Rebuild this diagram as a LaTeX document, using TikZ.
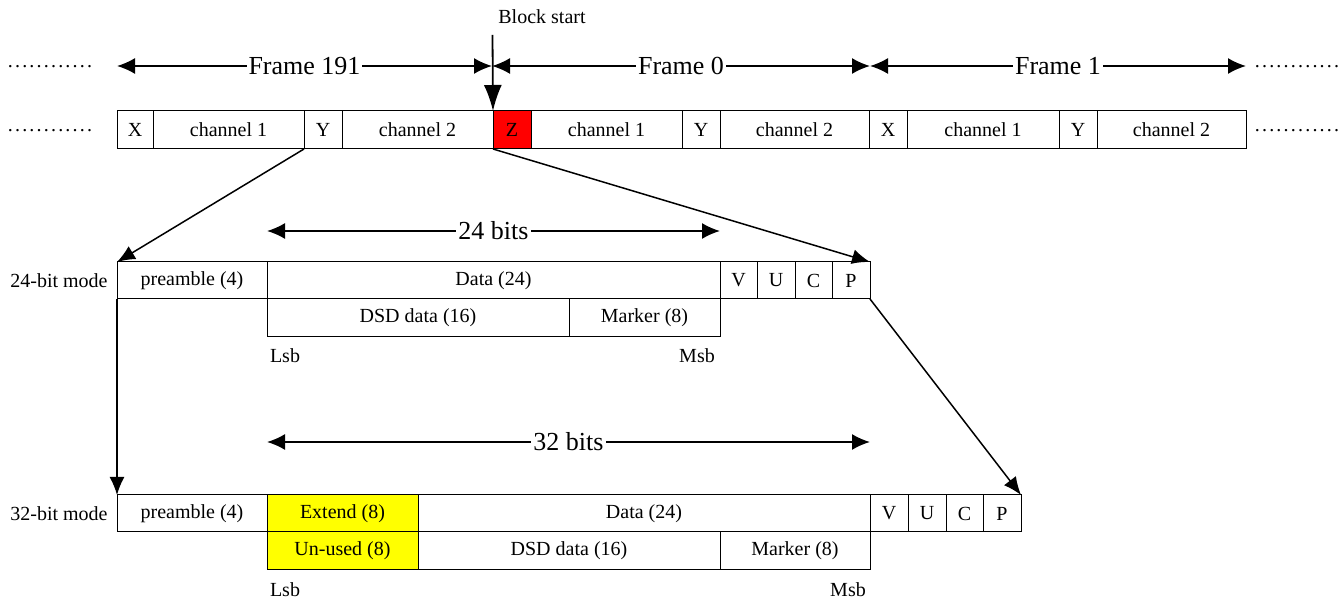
\documentclass[tikz,border=0pt]{standalone}
\usepackage{fontspec}
\setmainfont{Liberation Serif}
\usetikzlibrary{arrows.meta}
\newcommand\mkcell[7]{\node[cell,#7,minimum width={(#3-#2)*0.5pt},minimum height={(#5-#4)*0.5pt}] (#1) at ({(#2+#3)/2},{(#4+#5)/2}) {#6};}
\newcommand\dt{\makebox[3.6pt]{.}}
\newcommand\dotrow{\dt\dt\dt\dt\dt\dt\dt\dt\dt\dt\dt\dt}
\definecolor{zred}{RGB}{255,0,0}
\definecolor{exyel}{RGB}{255,255,0}
\begin{document}
\begin{tikzpicture}[x=0.5pt,y=-0.5pt,
  cell/.style={draw,line width=0.5pt,inner sep=0pt,outer sep=0pt,font=\fontsize{10pt}{12pt}\selectfont},
  txt/.style={inner sep=0pt,font=\fontsize{10pt}{12pt}\selectfont},
  big/.style={fill=white,inner sep=1pt,font=\fontsize{13pt}{15pt}\selectfont},
  farrow/.style={line width=0.9pt,{Latex[length=9pt,width=8pt]}-{Latex[length=9pt,width=8pt]}},
  conn/.style={line width=0.75pt,-{Latex[length=9pt,width=7.5pt]}}]
\useasboundingbox (0,0) rectangle (1344,603);
% dots
\node[txt] (dl1) at (50,67) {\dotrow};
\node[txt] (dl2) at (50,131) {\dotrow};
\node[txt] (dr1) at (1297,67) {\dotrow};
\node[txt] (dr2) at (1297,131) {\dotrow};
% top row
\mkcell{X1}{117}{153}{111}{149}{X}{}
\mkcell{c1a}{153}{304}{111}{149}{channel 1}{}
\mkcell{Y1}{304}{342}{111}{149}{Y}{}
\mkcell{c2a}{342}{493}{111}{149}{channel 2}{}
\mkcell{Z}{493}{531}{111}{149}{Z}{fill=zred}
\mkcell{c1b}{531}{682}{111}{149}{channel 1}{}
\mkcell{Y2}{682}{720}{111}{149}{Y}{}
\mkcell{c2b}{720}{869}{111}{149}{channel 2}{}
\mkcell{X2}{869}{907}{111}{149}{X}{}
\mkcell{c1c}{907}{1059}{111}{149}{channel 1}{}
\mkcell{Y3}{1059}{1097}{111}{149}{Y}{}
\mkcell{c2c}{1097}{1246}{111}{149}{channel 2}{}
% frame arrows
\coordinate (f0) at (117,66);
\coordinate (f1) at (492,66);
\coordinate (f2) at (870,66);
\coordinate (f3) at (1246,66);
\draw[farrow] (f0) -- node[big] (l191) {Frame 191} (f1);
\draw[farrow] (f1) -- node[big] (l0) {Frame 0} (f2);
\draw[farrow] (f2) -- node[big] (l1) {Frame 1} (f3);
% block start
\node[txt] (bs) at (542,17) {Block start};
\coordinate (bstop) at (492.5,35);
\draw[line width=0.9pt,-{Latex[length=13pt,width=9pt]}] (bstop) -- (Z.north west);
% 24-bit row
\node[txt,anchor=east] (m24) at (108,281) {24-bit mode};
\mkcell{pre24}{117}{267}{262}{299}{preamble (4)}{}
\mkcell{d24}{267}{720}{262}{299}{Data (24)}{}
\mkcell{V24}{720}{757}{262}{299}{V}{}
\mkcell{U24}{757}{795}{262}{299}{U}{}
\mkcell{C24}{795}{832}{262}{299}{C}{}
\mkcell{P24}{832}{870}{262}{299}{P}{}
\mkcell{dsd24}{267}{569}{299}{337}{DSD data (16)}{}
\mkcell{mk24}{569}{720}{299}{337}{Marker (8)}{}
\node[txt] (lsb24) at (285,356) {Lsb};
\node[txt] (msb24) at (697,356) {Msb};
\coordinate (b24a) at (267,231);
\coordinate (b24b) at (720,231);
\draw[farrow] (b24a) -- node[big] (l24) {24 bits} (b24b);
% 32-bit row
\node[txt,anchor=east] (m32) at (108,514) {32-bit mode};
\mkcell{pre32}{117}{267}{495}{532}{preamble (4)}{}
\mkcell{ext32}{267}{418}{495}{532}{Extend (8)}{fill=exyel}
\mkcell{d32}{418}{870}{495}{532}{Data (24)}{}
\mkcell{V32}{870}{908}{495}{532}{V}{}
\mkcell{U32}{908}{946}{495}{532}{U}{}
\mkcell{C32}{946}{983}{495}{532}{C}{}
\mkcell{P32}{983}{1021}{495}{532}{P}{}
\mkcell{un32}{267}{418}{532}{570}{Un-used (8)}{fill=exyel}
\mkcell{dsd32}{418}{720}{532}{570}{DSD data (16)}{}
\mkcell{mk32}{720}{870}{532}{570}{Marker (8)}{}
\node[txt] (lsb32) at (285,590) {Lsb};
\node[txt] (msb32) at (848,590) {Msb};
\coordinate (b32a) at (267,442);
\coordinate (b32b) at (870,442);
\draw[farrow] (b32a) -- node[big] (l32) {32 bits} (b32b);
% connectors
\draw[conn] (Y1.south west) -- (pre24.north west);
\draw[conn] (Z.south west) -- (P24.north east);
\draw[conn] (pre24.south west) -- (pre32.north west);
\draw[conn] (P24.south east) -- (P32.north east);
\end{tikzpicture}
\end{document}
